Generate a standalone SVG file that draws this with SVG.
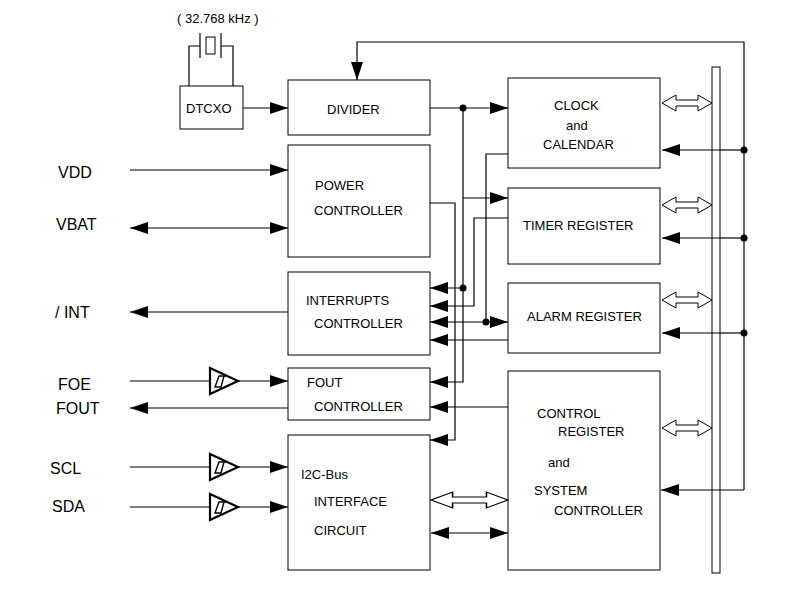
<svg xmlns="http://www.w3.org/2000/svg" width="808" height="595" viewBox="0 0 808 595">
<defs>
<marker id="a" markerWidth="18" markerHeight="12" refX="18" refY="6" orient="auto-start-reverse" markerUnits="userSpaceOnUse"><path d="M0,0L18,6L0,12z" fill="#000"/></marker>
<g id="buf"><path d="M0,-13L28,0L0,13z" fill="#fff" stroke="#000" stroke-width="2.2"/><path d="M5,6L11,6L14,-5L9,-5z M14,-5L16,-5" fill="none" stroke="#000" stroke-width="1.4"/></g>
<g id="dbl"><path d="M0,0L14,-8L14,-3L36,-3L36,-8L50,0L36,8L36,3L14,3L14,8z" fill="#fff" stroke="#000" stroke-width="1"/></g>
</defs>
<style>
rect.b{fill:#fff;stroke:#000;stroke-width:1}
text{font-family:"Liberation Sans",Arial,sans-serif;font-size:13px;fill:#000}
.l{font-size:16px}
line,polyline{stroke:#000;stroke-width:1.2;fill:none}
.m{marker-end:url(#a)}
.s{marker-start:url(#a)}
</style>
<rect width="808" height="595" fill="#fff"/>
<g id="crystal">
<text x="177" y="23" font-size="13">( 32.768 kHz )</text>
<polyline points="189,86 189,46 200,46"/><polyline points="233,86 233,46 221,46"/>
<line x1="200" y1="33" x2="200" y2="58" stroke-width="2.5"/><line x1="221" y1="33" x2="221" y2="58" stroke-width="2.5"/>
<rect x="206" y="37" width="9" height="17" fill="#fff" stroke="#000"/>
</g>
<g id="dtcxo"><rect class="b" x="180" y="86" width="63" height="43"/><text x="186" y="113">DTCXO</text></g>
<g id="divider"><rect class="b" x="288" y="80" width="142" height="55"/><text x="327" y="114">DIVIDER</text></g>
<g id="power"><rect class="b" x="288" y="145" width="142" height="112"/><text x="315" y="190">POWER</text><text x="314" y="215">CONTROLLER</text></g>
<g id="interrupts"><rect class="b" x="288" y="272" width="142" height="83"/><text x="306" y="305">INTERRUPTS</text><text x="314" y="328">CONTROLLER</text></g>
<g id="fout"><rect class="b" x="288" y="368" width="142" height="52"/><text x="307" y="387">FOUT</text><text x="314" y="411">CONTROLLER</text></g>
<g id="i2c"><rect class="b" x="288" y="435" width="142" height="135"/><text x="301" y="479">I2C-Bus</text><text x="314" y="506">INTERFACE</text><text x="314" y="535">CIRCUIT</text></g>
<g id="clock"><rect class="b" x="508" y="78" width="152" height="90"/><text x="554" y="110">CLOCK</text><text x="566" y="130">and</text><text x="543" y="149">CALENDAR</text></g>
<g id="timer"><rect class="b" x="508" y="188" width="152" height="76"/><text x="523" y="230">TIMER REGISTER</text></g>
<g id="alarm"><rect class="b" x="508" y="283" width="152" height="70"/><text x="527" y="321">ALARM REGISTER</text></g>
<g id="control"><rect class="b" x="508" y="371" width="152" height="199"/><text x="537" y="418">CONTROL</text><text x="558" y="436">REGISTER</text><text x="548" y="467">and</text><text x="534" y="495">SYSTEM</text><text x="554" y="515">CONTROLLER</text></g>
<g id="bus"><rect class="b" x="712" y="67" width="8" height="506"/></g>
<g id="pins">
<text class="l" x="58" y="178">VDD</text><text class="l" x="56" y="230">VBAT</text><text class="l" x="55" y="318">/ INT</text>
<text class="l" x="58" y="390">FOE</text><text class="l" x="56" y="414">FOUT</text><text class="l" x="50" y="474">SCL</text><text class="l" x="52" y="512">SDA</text>
</g>
<g id="connectors">
<line class="m" x1="243" y1="108" x2="288" y2="108"/>
<line class="m" x1="430" y1="108" x2="508" y2="108"/>
<polyline class="m" points="744,490 744,42 357,42 357,80"/>
<line class="m" x1="130" y1="170" x2="288" y2="170"/>
<line class="m s" x1="130" y1="228" x2="288" y2="228"/>
<line class="m" x1="288" y1="312" x2="130" y2="312"/>
<line x1="130" y1="381" x2="210" y2="381"/><line class="m" x1="238" y1="381" x2="288" y2="381"/>
<line class="m" x1="288" y1="408" x2="130" y2="408"/>
<line x1="130" y1="467" x2="210" y2="467"/><line class="m" x1="238" y1="467" x2="288" y2="467"/>
<line x1="130" y1="507" x2="210" y2="507"/><line class="m" x1="238" y1="507" x2="288" y2="507"/>
<polyline class="m" points="463,108 463,382 430,382"/>
<line class="m" x1="463" y1="198" x2="508" y2="198"/>
<line class="m" x1="463" y1="288" x2="430" y2="288"/>
<polyline points="508,154 486,154 486,322"/>
<line class="m s" x1="430" y1="322" x2="508" y2="322"/>
<polyline class="m" points="508,218 474,218 474,306 430,306"/>
<line class="m" x1="508" y1="340" x2="430" y2="340"/>
<line class="m" x1="508" y1="407" x2="430" y2="407"/>
<polyline class="m" points="430,203 455,203 455,440 430,440"/>
<line class="m" x1="720" y1="150" x2="662" y2="150"/><line x1="720" y1="150" x2="744" y2="150"/>
<line class="m" x1="720" y1="238" x2="662" y2="238"/><line x1="720" y1="238" x2="744" y2="238"/>
<line class="m" x1="720" y1="333" x2="662" y2="333"/><line x1="720" y1="333" x2="744" y2="333"/>
<line class="m" x1="744" y1="490" x2="661" y2="490"/>
<line class="m s" x1="431" y1="533" x2="508" y2="533"/>
<use href="#dbl" x="662" y="103"/><use href="#dbl" x="662" y="205"/><use href="#dbl" x="662" y="300"/><use href="#dbl" x="662" y="428"/>
<g transform="translate(431,500) scale(1.54,1)"><use href="#dbl"/></g>
<circle cx="463" cy="108" r="3.5"/><circle cx="463" cy="288" r="3.5"/><circle cx="486" cy="322" r="3.5"/>
<circle cx="744" cy="150" r="3.5"/><circle cx="744" cy="238" r="3.5"/><circle cx="744" cy="333" r="3.5"/>
<use href="#buf" x="210" y="381"/><use href="#buf" x="210" y="467"/><use href="#buf" x="210" y="507"/>
</g>
</svg>
